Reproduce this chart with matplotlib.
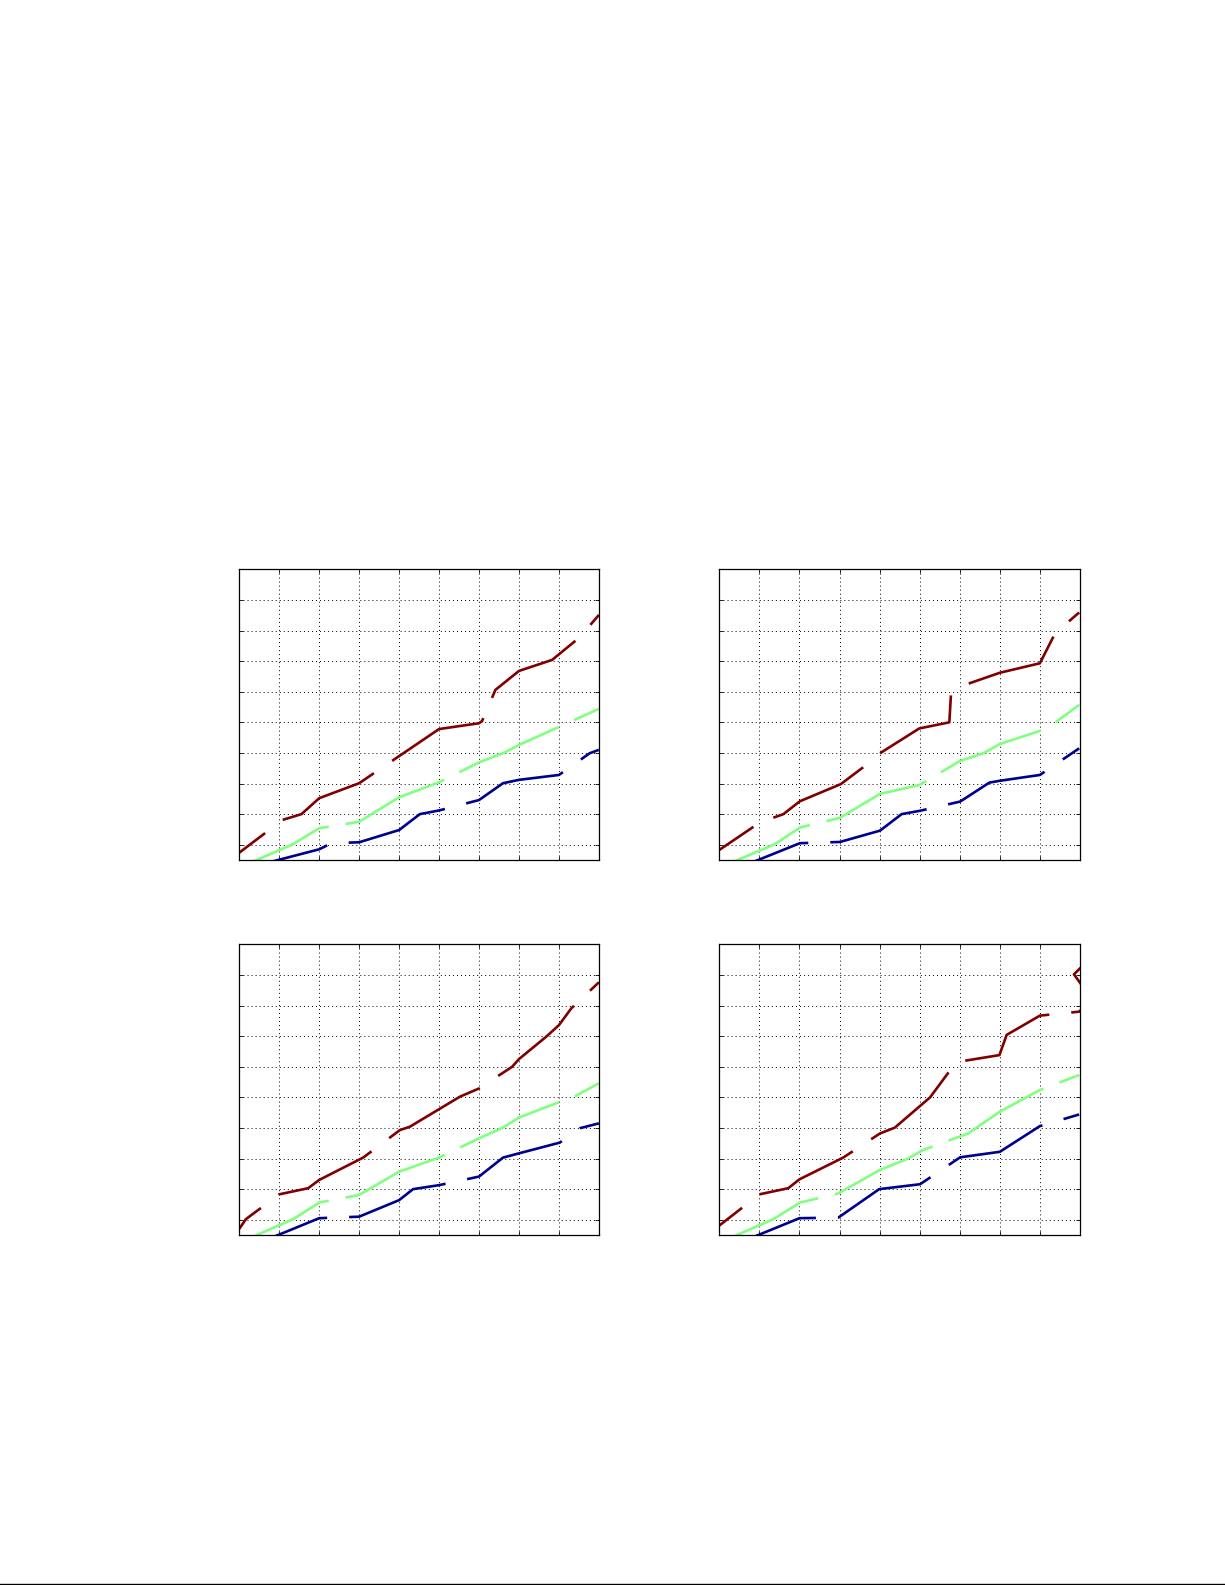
import numpy as np
import matplotlib
matplotlib.use("Agg")
import matplotlib.pyplot as plt
from matplotlib.lines import Line2D

plt.rcParams['lines.scale_dashes'] = False
DPI = 100

# ---------------- data ----------------
# Panel 1 (top-left)
p1_red_x = [0, 1.083, 1.558, 2, 3, 5, 6, 6.075, 6.41, 7, 7.83, 8.52, 9]
p1_red_y = [0.74, 1.81, 2.00, 2.52, 3.01, 4.78, 4.97, 5.04, 6.06, 6.68, 7.04, 7.78, 8.51]
p1_grn_x = [0, 1.35, 2, 3, 4, 5, 6, 6.6, 7, 9]
p1_grn_y = [0.25, 1.02, 1.54, 1.75, 2.55, 3.04, 3.69, 3.99, 4.26, 5.44]
p1_blu_x = [0, 2, 2.31, 3, 4, 4.52, 5, 6, 6.6, 7, 8, 8.77, 9]
p1_blu_y = [0.17, 0.85, 1.05, 1.08, 1.48, 2.00, 2.12, 2.46, 3.01, 3.12, 3.28, 3.99, 4.10]

# Panel 2 (top-right)
p2_red_x = [0, 1.015, 1.60, 2.01, 3.03, 3.59, 4.01, 4.99, 5.74, 5.78, 6.01, 7.0, 8.0, 8.38, 8.98]
p2_red_y = [0.83, 1.73, 2.00, 2.42, 2.98, 3.53, 3.99, 4.80, 5.00, 5.89, 6.17, 6.62, 6.93, 7.91, 8.59]
p2_grn_x = [0, 1.39, 2.01, 3.01, 4.01, 4.99, 6.01, 6.59, 7.0, 8.0, 8.38, 8.98]
p2_grn_y = [0.25, 1.02, 1.56, 1.88, 2.66, 2.95, 3.74, 3.99, 4.29, 4.72, 4.99, 5.57]
p2_blu_x = [0, 2.01, 3.01, 4.01, 4.55, 5.01, 6.01, 6.74, 7.0, 8.0, 8.98]
p2_blu_y = [-0.01, 1.05, 1.09, 1.46, 2.00, 2.11, 2.41, 3.03, 3.09, 3.28, 4.15]

# Panel 3 (bottom-left)
p3_red_x = [0, 0.167, 1.0, 1.725, 2.0, 3.1, 4.02, 4.27, 5.52, 6.0, 6.83, 7.0, 7.68, 8.0, 8.31, 9.0]
p3_red_y = [0.70, 1.02, 1.83, 2.03, 2.30, 3.03, 3.93, 4.04, 5.02, 5.29, 6.00, 6.25, 6.98, 7.36, 7.91, 8.76]
p3_grn_x = [0, 1.35, 2.0, 3.0, 4.0, 5.0, 6.0, 6.6, 7.0, 7.98, 8.35, 9.0]
p3_grn_y = [0.25, 1.02, 1.56, 1.81, 2.57, 3.03, 3.66, 4.01, 4.34, 4.83, 5.00, 5.46]
p3_blu_x = [0, 2.0, 3.0, 4.0, 4.35, 5.0, 6.0, 6.6, 7.0, 8.02, 8.52, 9.0]
p3_blu_y = [-0.02, 1.05, 1.10, 1.64, 2.00, 2.13, 2.41, 3.03, 3.17, 3.52, 3.99, 4.15]

# Panel 4 (bottom-right)
p4_red_x = [0, 1.0, 1.72, 2.0, 3.09, 4.01, 4.38, 5.26, 5.91, 6.99, 7.17, 8.0, 8.98, 9.3, 8.85, 9.3]
p4_red_y = [0.81, 1.83, 2.03, 2.32, 3.03, 3.82, 4.01, 5.00, 6.15, 6.38, 7.04, 7.67, 7.80, 8.2, 9.02, 9.6]
p4_grn_x = [0, 1.35, 2.01, 2.97, 4.01, 4.68, 5.09, 6.21, 7.0, 8.0, 8.98]
p4_grn_y = [0.25, 1.02, 1.56, 1.86, 2.63, 2.98, 3.28, 3.82, 4.53, 5.24, 5.73]
p4_blu_x = [0, 2.0, 2.97, 3.99, 5.01, 6.01, 7.0, 8.0, 8.98]
p4_blu_y = [-0.02, 1.05, 1.07, 2.00, 2.16, 3.04, 3.22, 4.06, 4.44]

x_ticks = list(range(0, 10))
y_ticks = list(range(1, 11))

# ---------------- styling ----------------
RED = '#800000'
GRN = '#80FF80'
BLU = '#00008F'
# dash (on, off) in pixels
DASH_RB = (104, 22)
DASH_G = (109, 17)

# x position of a visible dash end for each line (style phase)
dash_end = {
    (0, 'r'): 3.37, (0, 'g'): 2.24, (0, 'b'): 2.20,
    (1, 'r'): 3.59, (1, 'g'): 2.26, (1, 'b'): 2.22,
    (2, 'r'): 3.31, (2, 'g'): 2.24, (2, 'b'): 2.20,
    (3, 'r'): 3.33, (3, 'g'): 2.47, (3, 'b'): 2.41,
}

panels = [
    (p1_red_x, p1_red_y, p1_grn_x, p1_grn_y, p1_blu_x, p1_blu_y),
    (p2_red_x, p2_red_y, p2_grn_x, p2_grn_y, p2_blu_x, p2_blu_y),
    (p3_red_x, p3_red_y, p3_grn_x, p3_grn_y, p3_blu_x, p3_blu_y),
    (p4_red_x, p4_red_y, p4_grn_x, p4_grn_y, p4_blu_x, p4_blu_y),
]

positions = [
    [0.1953, 0.4574, 0.2936, 0.1834],
    [0.5872, 0.4574, 0.2944, 0.1834],
    [0.1953, 0.2208, 0.2936, 0.1834],
    [0.5872, 0.2208, 0.2944, 0.1834],
]

fig = plt.figure(figsize=(12.25, 15.85), dpi=DPI)


def path_len_to(ax, xs, ys, x_end):
    pts = ax.transData.transform(np.column_stack([xs, ys]))
    L = 0.0
    for i in range(len(xs) - 1):
        seg = np.hypot(*(pts[i + 1] - pts[i]))
        if xs[i] <= x_end <= xs[i + 1]:
            t = (x_end - xs[i]) / (xs[i + 1] - xs[i])
            return L + t * seg
        L += seg
    return L


for k, (pos, data) in enumerate(zip(positions, panels)):
    ax = fig.add_axes(pos)
    ax.set_xlim(0, 9)
    ax.set_ylim(0.5, 10)
    ax.set_xticks(x_ticks)
    ax.set_yticks(y_ticks)
    ax.tick_params(direction='in', length=3, width=0.6, top=True, right=True,
                   labelbottom=False, labelleft=False)
    for s in ax.spines.values():
        s.set_linewidth(0.9)
        s.set_color('black')
    ax.grid(True, color='black', linewidth=0.7, linestyle=(0, (0.7, 2.2)))
    ax.set_axisbelow(True)

    rx, ry, gx, gy, bx, by = data
    for (xs, ys, col, key, dash) in [(bx, by, BLU, 'b', DASH_RB),
                                     (gx, gy, GRN, 'g', DASH_G),
                                     (rx, ry, RED, 'r', DASH_RB)]:
        on, off = dash
        L = path_len_to(ax, xs, ys, dash_end[(k, key)])
        off_px = (on - L) % (on + off)
        ls = (off_px * 72 / DPI, (on * 72 / DPI, off * 72 / DPI))
        ax.plot(xs, ys, color=col, linewidth=1.9, linestyle=ls,
                solid_joinstyle='round', dash_joinstyle='round')

# rule at the bottom of the page
fig.add_artist(Line2D([0, 1], [0.0009, 0.0009], transform=fig.transFigure,
                      color='black', linewidth=1.0))

fig.savefig('out.png', dpi=DPI)
